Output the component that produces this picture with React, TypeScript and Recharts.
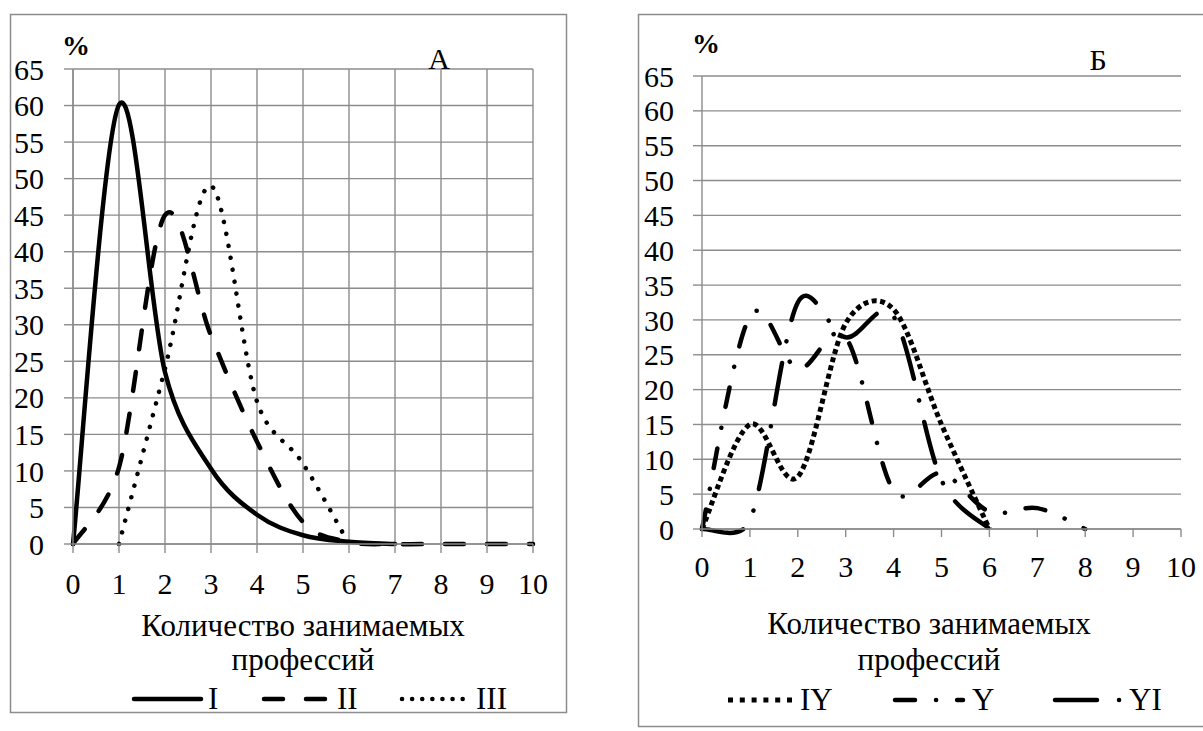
import React from 'react';
import { LineChart, Line, XAxis, YAxis, CartesianGrid } from 'recharts';

// количество занимаемых профессий (ось X)
const professions = [0, 1, 2, 3, 4, 5, 6, 7, 8, 9, 10];
const yTicks = [0, 5, 10, 15, 20, 25, 30, 35, 40, 45, 50, 55, 60, 65];

// панель А, %
const seriesI = [0, 60.1, 23.5, 10.3, 4, 1.2, 0.3, 0, null, null, null];
const seriesII = [0, 10.5, 45, 28.5, 14, 3, 0.3, 0, 0, 0, 0];
const seriesIII = [null, 0, 24, 49, 19.5, 11, 0, null, null, null, null];

// панель Б, %
const seriesIY = [0, 15, 7.5, 29.5, 31.5, 15, 0, null, null, null, null];
const seriesY = [0, 30.5, 23, 27.5, 5.5, 8, 2.5, 3, 0, null, null];
const seriesYI = [0, 1.2, 32.5, 27.5, 30.5, 7, 0, null, null, null, null];

const FONT = 'Liberation Serif, Times New Roman, serif';
const GRID = '#8c8c8c';

// сглаживание как в Excel: кардинальный сплайн 1/6,
// плечо не длиннее половины отрезка
const excelSmooth = (context: any) => {
  let pts: number[][] = [];
  const dist = (a: number[], b: number[]) => Math.hypot(b[0] - a[0], b[1] - a[1]);
  return {
    areaStart() {},
    areaEnd() {},
    lineStart() {
      pts = [];
    },
    point(x: number, y: number) {
      pts.push([x, y]);
    },
    lineEnd() {
      const n = pts.length;
      if (!n) return;
      context.moveTo(pts[0][0], pts[0][1]);
      for (let i = 0; i < n - 1; i++) {
        const p0 = pts[Math.max(i - 1, 0)];
        const p1 = pts[i];
        const p2 = pts[i + 1];
        const p3 = pts[Math.min(i + 2, n - 1)];
        const d12 = dist(p1, p2);
        const d02 = dist(p0, p2);
        const d13 = dist(p1, p3);
        const f1 = d02 / 6 < d12 / 2 ? 1 / 6 : d12 / 2 / d02;
        const f2 = d13 / 6 < d12 / 2 ? 1 / 6 : d12 / 2 / d13;
        context.bezierCurveTo(
          p1[0] + (p2[0] - p0[0]) * f1,
          p1[1] + (p2[1] - p0[1]) * f1,
          p2[0] - (p3[0] - p1[0]) * f2,
          p2[1] - (p3[1] - p1[1]) * f2,
          p2[0],
          p2[1],
        );
      }
    },
  };
};

function buildRows(cols: Record<string, (number | null)[]>) {
  return professions.map((x, i) => {
    const row: Record<string, number | null> = { x };
    Object.keys(cols).forEach((k) => {
      row[k] = cols[k][i];
    });
    return row;
  });
}

const dataA = buildRows({ I: seriesI, II: seriesII, III: seriesIII });
const dataB = buildRows({ IY: seriesIY, Y: seriesY, YI: seriesYI });

const styles: Record<string, { dash?: string; cap: 'round' | 'butt'; width: number }> = {
  I: { cap: 'round', width: 4.5 },
  II: { dash: '19 23', cap: 'round', width: 4.5 },
  III: { dash: '0.1 12', cap: 'round', width: 4.5 },
  IY: { dash: '5 3.5', cap: 'butt', width: 5 },
  Y: { dash: '20 21 0.1 21', cap: 'round', width: 4.5 },
  YI: { dash: '42 22 0.1 22', cap: 'round', width: 4.5 },
};

const tickStyle = { fill: '#000', fontSize: 30, fontFamily: FONT };

const series = (key: string) => (
  <Line
    key={key}
    dataKey={key}
    type={excelSmooth as any}
    stroke="#000"
    strokeWidth={styles[key].width}
    strokeDasharray={styles[key].dash}
    strokeLinecap={styles[key].cap}
    dot={false}
    activeDot={false}
    isAnimationActive={false}
  />
);

const LegendItem = ({ x1, x2, tx, y, k, label, dash }: any) => (
  <g>
    <line
      x1={x1}
      x2={x2}
      y1={y}
      y2={y}
      stroke="#000"
      strokeWidth={styles[k].width}
      strokeDasharray={dash ?? styles[k].dash}
      strokeLinecap={styles[k].cap}
    />
    <text x={tx} y={y + 10} fontSize={31} fontFamily={FONT}>
      {label}
    </text>
  </g>
);

export default function App() {
  return (
    <div style={{ position: 'relative', width: 1203, height: 731, overflow: 'hidden', background: '#fff' }}>
      <style>{'body{margin:0}'}</style>

      <div style={{ position: 'absolute', left: 0, top: 0 }}>
        <LineChart width={580} height={731} data={dataA} margin={{ top: 69, right: 47, bottom: 127, left: 0 }}>
          <CartesianGrid stroke={GRID} strokeWidth={1.4} />
          <XAxis
            dataKey="x"
            type="number"
            domain={[0, 10]}
            ticks={professions}
            interval={0}
            height={60}
            tickSize={9}
            tickMargin={20}
            axisLine={{ stroke: GRID, strokeWidth: 1.4 }}
            tickLine={{ stroke: GRID, strokeWidth: 1.4 }}
            tick={tickStyle}
          />
          <YAxis
            type="number"
            domain={[0, 65]}
            ticks={yTicks}
            interval={0}
            width={73}
            tickSize={9}
            tickMargin={20}
            axisLine={{ stroke: GRID, strokeWidth: 1.4 }}
            tickLine={{ stroke: GRID, strokeWidth: 1.4 }}
            tick={tickStyle}
          />
          {series('I')}
          {series('II')}
          {series('III')}
        </LineChart>
      </div>

      <div style={{ position: 'absolute', left: 620, top: 0 }}>
        <LineChart width={583} height={731} data={dataB} margin={{ top: 76, right: 22, bottom: 142, left: 0 }}>
          <CartesianGrid stroke={GRID} strokeWidth={1.4} vertical={false} />
          <XAxis
            dataKey="x"
            type="number"
            domain={[0, 10]}
            ticks={professions}
            interval={0}
            height={60}
            tickSize={8}
            tickMargin={19}
            axisLine={{ stroke: GRID, strokeWidth: 1.4 }}
            tickLine={{ stroke: GRID, strokeWidth: 1.4 }}
            tick={tickStyle}
          />
          <YAxis
            type="number"
            domain={[0, 65]}
            ticks={yTicks}
            interval={0}
            width={82}
            tickSize={9}
            tickMargin={19}
            axisLine={{ stroke: GRID, strokeWidth: 1.4 }}
            tickLine={{ stroke: GRID, strokeWidth: 1.4 }}
            tick={tickStyle}
          />
          {series('IY')}
          {series('Y')}
          {series('YI')}
        </LineChart>
      </div>

      <svg
        width={1203}
        height={731}
        style={{ position: 'absolute', left: 0, top: 0, pointerEvents: 'none' }}
      >
        {/* рамки */}
        <rect x={10.5} y={14.5} width={556} height={698} fill="none" stroke={GRID} strokeWidth={1.5} />
        <rect x={638.5} y={14.5} width={600} height={712} fill="none" stroke={GRID} strokeWidth={1.5} />

        {/* панель А */}
        <text x={62} y={55} fontSize={28} fontWeight="bold" fontFamily={FONT}>%</text>
        <text x={439} y={69} fontSize={30} textAnchor="middle" fontFamily={FONT}>А</text>
        <text x={303} y={636} fontSize={31} textAnchor="middle" fontFamily={FONT}>Количество занимаемых</text>
        <text x={303} y={670} fontSize={31} textAnchor="middle" fontFamily={FONT}>профессий</text>
        <LegendItem k="I" label="I" x1={134} x2={201} tx={208} y={699} />
        <LegendItem k="II" label="II" x1={264} x2={325} tx={337} y={699} />
        <LegendItem k="III" label="III" x1={402} x2={467} tx={476} y={699} dash="0.1 10" />

        {/* панель Б */}
        <text x={692} y={53} fontSize={28} fontWeight="bold" fontFamily={FONT}>%</text>
        <text x={1098} y={70} fontSize={30} textAnchor="middle" fontFamily={FONT}>Б</text>
        <text x={929} y={634} fontSize={31} textAnchor="middle" fontFamily={FONT}>Количество занимаемых</text>
        <text x={929} y={670} fontSize={31} textAnchor="middle" fontFamily={FONT}>профессий</text>
        <LegendItem k="IY" label="IY" x1={728} x2={792} tx={800} y={700} dash="5 6.8" />
        <LegendItem k="Y" label="Y" x1={895} x2={963} tx={972} y={700} />
        <LegendItem k="YI" label="YI" x1={1055} x2={1122} tx={1129} y={700} />
      </svg>
    </div>
  );
}
